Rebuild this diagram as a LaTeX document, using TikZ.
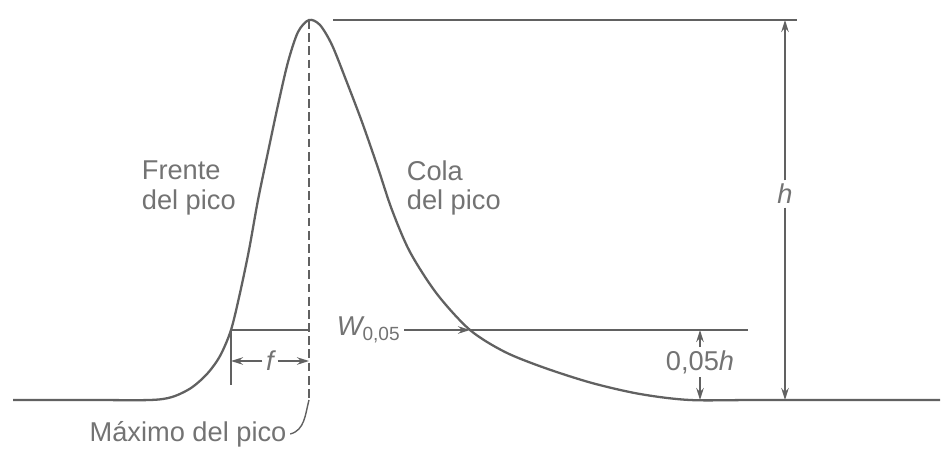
\documentclass[tikz,border=0pt]{standalone}
\usepackage{fontspec}
\setmainfont{Liberation Sans}
\usetikzlibrary{positioning,arrows.meta,calc}
\definecolor{ink}{gray}{0.38}
\definecolor{txt}{gray}{0.45}
\tikzset{
  crv/.style={line width=1.3pt,draw=ink,line join=round},
  ln/.style={line width=0.8pt,draw=ink},
  dim/.style={ln,-{Stealth[length=2.4mm,width=1.5mm]}},
  lbl/.style={font=\fontsize{15.5}{17}\selectfont,text=txt,inner sep=2pt},
}
\begin{document}
\begin{tikzpicture}[x=0.02cm,y=-0.02cm]
\useasboundingbox (0,0) rectangle (943,453);
% reference points
\coordinate (peak) at (309,20);
\coordinate (fw) at (231,330);
\coordinate (tw) at (470,330);
\coordinate (mx) at (309,330);
\coordinate (top) at (785,20);
\coordinate (hb) at (785,400);
\coordinate (dend) at (309,400);
% peak profile
\draw[crv] plot[smooth,tension=0.5] coordinates {
  (13,400) (90,400) (150,400) (172,397) (191,388) (207,374) (220,356)
  (fw) (240,293) (249,250) (258,200) (268,152) (278,105) (288,62)
  (298,32) (peak) (320,25) (332,45) (346,80) (362,122) (378,168)
  (392,210) (410,252) (437,294) (tw) (505,352) (545,368) (592,383)
  (640,394) (690,400) (760,400) (940,400)};
% maximum line
\draw[ln,dashed,dash pattern=on 5pt off 2.5pt] (peak) -- (dend);
% height h
\draw[ln] ($(peak)+(24,0)$) -- ($(top)+(12,0)$);
\node[lbl,fill=white] (hl) at (785,194) {\itshape h};
\draw[dim] (hl) -- (top);
\draw[dim] (hl) -- (hb);
% width at 0.05h
\draw[ln] (fw) -- (mx);
\draw[ln] (tw) -- (748,330);
\node[lbl,anchor=west] (wl) at (333,330) {{\itshape W}\textsubscript{0,05}};
\draw[dim] (wl.east) -- (tw);
\node[lbl] (p05) at (700,362) {0,05\textit{h}};
\draw[dim] (p05.north) -- (p05.north |- tw);
\draw[dim] (p05.south) -- (p05.south |- hb);
% front distance f
\draw[ln] (fw) -- ++(0,55);
\node[lbl] (fl) at (270,361) {\itshape f};
\draw[dim] (fl.west) -- (fl.west -| fw);
\draw[dim] (fl.east) -- (fl.east -| mx);
% labels
\node[lbl,align=left,anchor=west] (frente) at (138,188) {Frente\\del pico};
\node[lbl,align=left,anchor=west] (cola) at (403,188) {Cola\\del pico};
\node[lbl] (maxl) at (188,434) {Máximo del pico};
\draw[ln] (maxl.east) to[out=15,in=-105] (dend);
\end{tikzpicture}
\end{document}
